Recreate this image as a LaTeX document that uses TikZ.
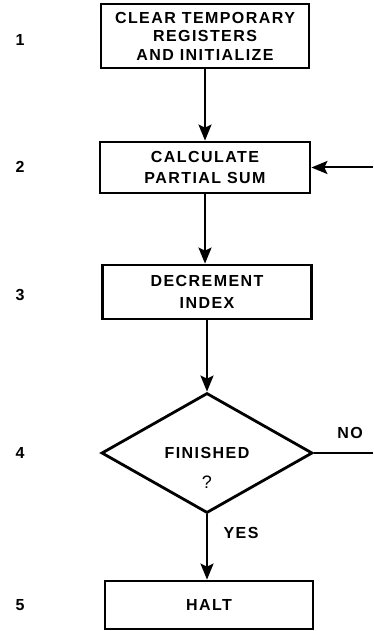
\documentclass[tikz,border=0pt]{standalone}
\usepackage{fontspec}
\setmainfont{Liberation Sans}[LetterSpace=9]
\usetikzlibrary{arrows.meta,shapes.geometric}
\begin{document}
\begin{tikzpicture}[x=1pt,y=-1pt,
  every node/.style={font=\fontsize{16}{18.5}\selectfont\bfseries},
  stepbox/.style={draw,line width=2.8pt,rectangle,inner sep=0pt,align=center},
  decision/.style={draw,line width=2.8pt,diamond,inner sep=0pt},
  lbl/.style={inner sep=0pt},
  conn/.style={line width=2pt,-{Stealth[length=16pt,width=13pt,inset=3pt]}},
  plain/.style={line width=2pt}]
\useasboundingbox (0,0) rectangle (373,631);
% boxes
\node[stepbox,minimum width=208pt,minimum height=64pt] (b1) at (205,36) {CLEAR TEMPORARY\\REGISTERS\\AND INITIALIZE};
\node[stepbox,minimum width=210pt,minimum height=51pt,font=\fontsize{16}{20.5}\selectfont\bfseries] (b2) at (205,167.5) {CALCULATE\\PARTIAL SUM};
\node[stepbox,minimum width=209pt,minimum height=54pt,font=\fontsize{16}{22}\selectfont\bfseries] (b3) at (207,292) {DECREMENT\\INDEX};
\node[decision,minimum width=211pt,minimum height=120pt] (d4) at (207,453) {};
\node[lbl] (t4a) at (207,453) {FINISHED};
\node[lbl,font=\fontsize{18}{20}\selectfont] (t4b) at (207,482) {?};
\node[stepbox,minimum width=208pt,minimum height=48pt] (b5) at (209,605) {HALT};
% step numbers
\node[lbl] (n1) at (20,40) {1};
\node[lbl] (n2) at (20,167) {2};
\node[lbl] (n3) at (20,295) {3};
\node[lbl] (n4) at (20,453) {4};
\node[lbl] (n5) at (20,605) {5};
% labels
\node[lbl] (no) at (350,433) {NO};
\node[lbl] (yes) at (241,533) {YES};
% connectors
\draw[conn] (b1.south) -- (b1.south |- b2.north);
\draw[conn] (b2.south) -- (b2.south |- b3.north);
\draw[conn] (b3.south) -- (b3.south |- d4.north);
\draw[conn] (d4.south) -- (d4.south |- b5.north);
\coordinate (noend) at (373,453);
\coordinate (loopin) at (373,167.5);
\draw[plain] (d4.east) -- (noend);
\draw[conn] (loopin) -- (b2.east);
\end{tikzpicture}
\end{document}
